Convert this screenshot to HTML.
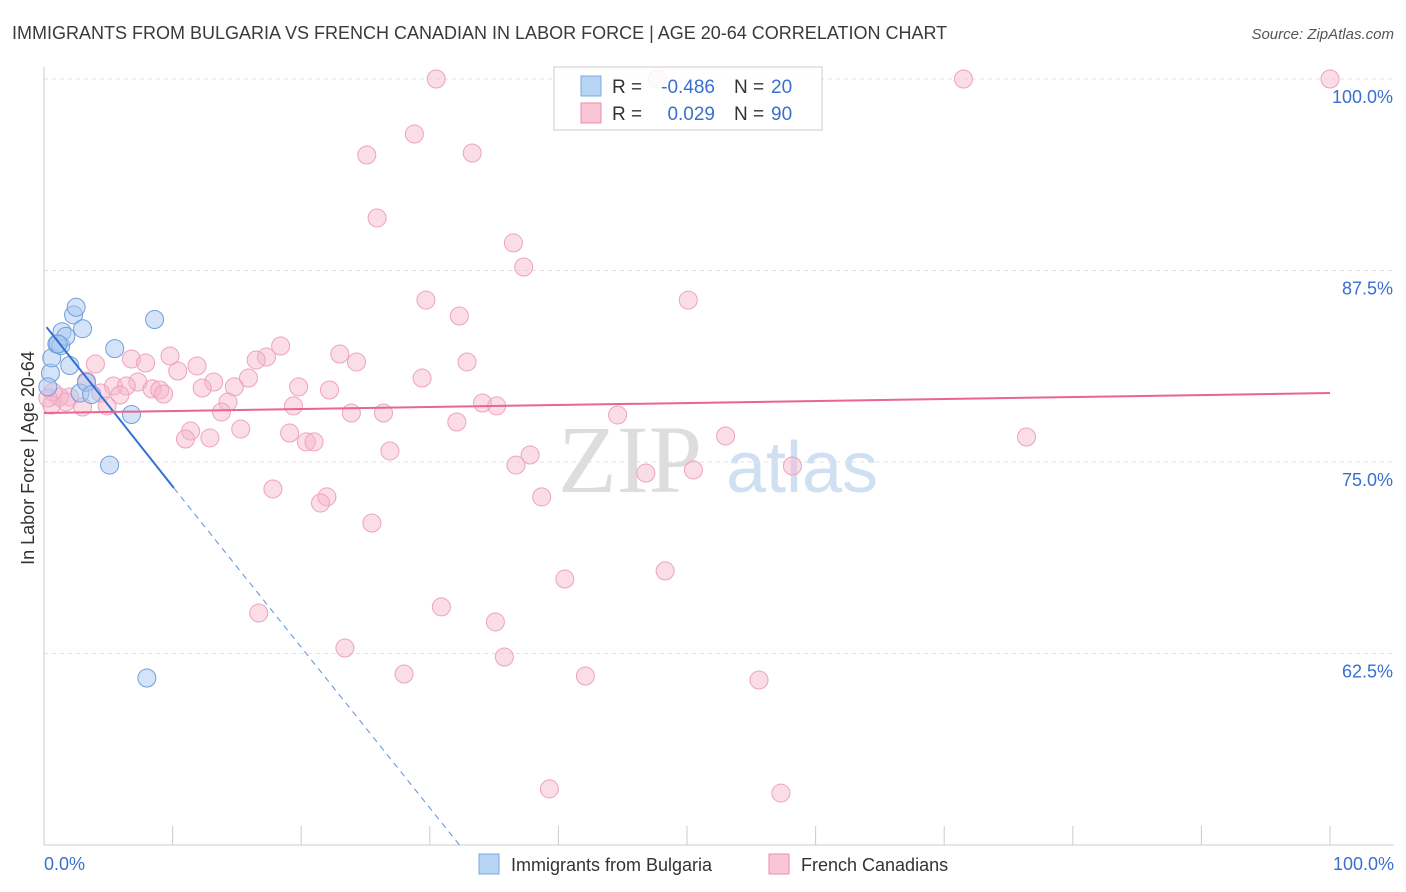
<!DOCTYPE html>
<html><head><meta charset="utf-8">
<style>
body{margin:0;background:#fff;font-family:"Liberation Sans",sans-serif;}
#wrap{position:relative;width:1406px;height:892px;overflow:hidden;}
</style></head>
<body>
<div id="wrap">
<svg id="svg" width="1406" height="892" xmlns="http://www.w3.org/2000/svg">
<text x="12" y="39" font-size="18" fill="#3a3a3a">IMMIGRANTS FROM BULGARIA VS FRENCH CANADIAN IN LABOR FORCE | AGE 20-64 CORRELATION CHART</text>
<text x="1394" y="39" font-size="15" fill="#555" font-style="italic" text-anchor="end">Source: ZipAtlas.com</text>
<text x="630" y="492" font-size="96" fill="#ddd" font-family="Liberation Serif,serif" text-anchor="middle">ZIP</text>
<text x="802" y="492" font-size="72" fill="#cfe0f3" text-anchor="middle">atlas</text>
<text x="34" y="458" font-size="18" fill="#333" text-anchor="middle" transform="rotate(-90 34 458)">In Labor Force | Age 20-64</text>
<g id="grid"></g><g id="pts"></g><g id="lines"></g>
<rect x="554" y="67" width="268" height="63" fill="rgba(255,255,255,0.85)" stroke="#ccc"/>
<rect x="581" y="76" width="20" height="20" fill="#b8d4f5" stroke="#7aa8e0"/>
<rect x="581" y="103" width="20" height="20" fill="#f9c6d6" stroke="#ea8fae"/>
<g font-size="19" fill="#333">
<text x="612" y="93">R =</text><text x="715" y="93" fill="#3a6fd0" text-anchor="end">-0.486</text>
<text x="734" y="93">N =</text><text x="771" y="93" fill="#3a6fd0">20</text></g>
<g font-size="19" fill="#333">
<text x="612" y="120">R =</text><text x="715" y="120" fill="#3a6fd0" text-anchor="end">0.029</text>
<text x="734" y="120">N =</text><text x="771" y="120" fill="#3a6fd0">90</text></g>
<text x="44" y="870" font-size="18" fill="#3a6fd0">0.0%</text>
<text x="1394" y="870" font-size="18" fill="#3a6fd0" text-anchor="end">100.0%</text>
<rect x="479" y="854" width="20" height="20" fill="#b8d4f5" stroke="#7aa8e0"/>
<text x="511" y="871" font-size="18" fill="#333">Immigrants from Bulgaria</text>
<rect x="769" y="854" width="20" height="20" fill="#f9c6d6" stroke="#ea8fae"/>
<text x="801" y="871" font-size="18" fill="#333">French Canadians</text>
</svg>
</div>
<script>
const yTicks=[100,87.5,75,62.5];
const yTickLabels=["100.0%","87.5%","75.0%","62.5%"];
const xTicks=[0,10,20,30,40,50,60,70,80,90,100];
const blueX=[0.5,0.6,1.0,1.3,1.4,1.7,2.0,2.3,2.5,3.0,2.8,3.3,3.7,5.5,5.1,6.8,8.6,8.0,0.3,1.1];
const blueY=[80.8,81.8,82.7,82.6,83.5,83.2,81.3,84.6,85.1,83.7,79.5,80.2,79.4,82.4,74.8,78.1,84.3,60.9,79.9,82.7];
const pinkPx=[[436,79],[657,79],[963,79],[1330,79],[415,134],[367,155],[472,153],[377,218],[514,243],[524,267],[426,300],[688,300],[460,316],[281,346],[340,354],[266,357],[256,360],[170,356],[197,366],[132,359],[145,363],[95,364],[357,362],[467,362],[178,371],[422,378],[248,378],[214,382],[138,382],[114,386],[126,386],[152,389],[160,390],[164,394],[202,388],[234,387],[299,387],[330,390],[87,381],[100,393],[120,395],[70,397],[60,397],[53,392],[66,402],[82,407],[107,406],[228,402],[293,406],[222,412],[351,413],[384,413],[483,403],[497,406],[618,415],[457,422],[241,429],[190,431],[186,439],[210,438],[289,433],[306,442],[314,442],[390,451],[530,455],[516,465],[725,436],[1026,437],[646,473],[693,470],[792,466],[273,489],[327,497],[321,503],[542,497],[372,523],[565,579],[665,571],[259,613],[442,607],[495,622],[345,648],[505,657],[404,674],[585,676],[759,680],[550,789],[781,793],[52,405],[48,398]];
const pinkX=pinkPx.map(p=>+((p[0]-44)/12.86).toFixed(1));
const pinkY=pinkPx.map(p=>+(100-(p[1]-79)/15.32).toFixed(2));
const blueTrend=[[0.2,83.8],[10.1,73.3],[32.4,49.9]];
const pinkTrend=[[0,78.2],[100,79.5]];
const X=v=>44+v*12.86, Y=v=>79+(100-v)*15.32;
const NS="http://www.w3.org/2000/svg";
function mk(t,a,p){const e=document.createElementNS(NS,t);for(const k in a)e.setAttribute(k,a[k]);document.getElementById(p).appendChild(e);return e;}
yTicks.forEach((t,i)=>{
 const l=mk('line',{x1:44,x2:1394,y1:Y(t),y2:Y(t),stroke:'#e3e3e3','stroke-dasharray':'4,4'},'grid');
 
 
 const tx=mk('text',{x:1393,y:Y(t)+24,'font-size':18,fill:'#3a6fd0','text-anchor':'end'},'grid');
 tx.textContent=yTickLabels[i];
 
 
});
const ax=mk('line',{x1:44,x2:44,y1:67,y2:845,stroke:'#ccc'},'grid');


const bx=mk('line',{x1:44,x2:1394,y1:845,y2:845,stroke:'#ccc'},'grid');


xTicks.forEach(t=>{const l=mk('line',{x1:X(t),x2:X(t),y1:826,y2:845,stroke:'#ccc'},'grid');
 
 });
pinkX.forEach((x,i)=>{const c=mk('circle',{cx:X(x),cy:Y(pinkY[i]),r:9,fill:'rgba(247,180,203,0.45)',stroke:'#eea2bd','stroke-width':1},'pts');
 
 });
blueX.forEach((x,i)=>{const c=mk('circle',{cx:X(x),cy:Y(blueY[i]),r:9,fill:'rgba(170,200,240,0.5)',stroke:'#6f9fdc','stroke-width':1},'pts');
 
 });
const b1=mk('line',{x1:X(blueTrend[0][0]),y1:Y(blueTrend[0][1]),x2:X(blueTrend[1][0]),y2:Y(blueTrend[1][1]),stroke:'#2f6fd6','stroke-width':2},'lines');


const b2=mk('line',{x1:X(blueTrend[1][0]),y1:Y(blueTrend[1][1]),x2:X(blueTrend[2][0]),y2:Y(blueTrend[2][1]),stroke:'#5b8fde','stroke-width':1,'stroke-dasharray':'6,5'},'lines');


const p1=mk('line',{x1:X(pinkTrend[0][0]),y1:Y(pinkTrend[0][1]),x2:X(pinkTrend[1][0]),y2:Y(pinkTrend[1][1]),stroke:'#e8668f','stroke-width':2},'lines');


</script>
</body></html>
